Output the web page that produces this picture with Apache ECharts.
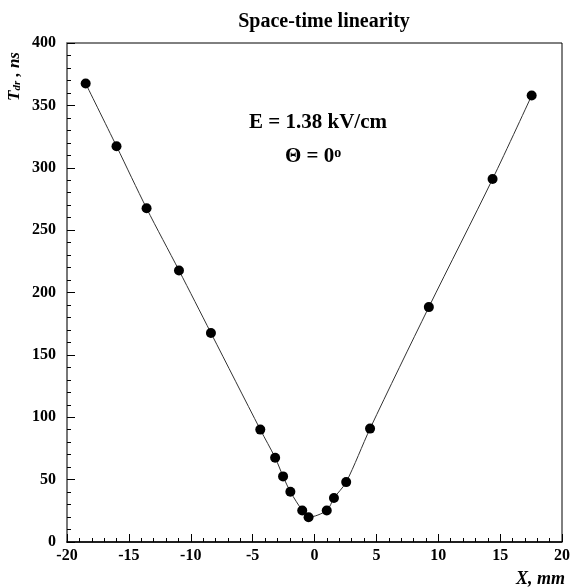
<!DOCTYPE html>
<html>
<head>
<meta charset="utf-8">
<script src="https://cdn.jsdelivr.net/npm/echarts@6/dist/echarts.min.js"></script>
<style>
html,body{margin:0;padding:0;background:#fff;}
#c{width:573px;height:588px;}
</style>
</head>
<body>
<div id="c"></div>
<script>
var xValues = [-18.49, -16.0, -13.57, -10.95, -8.37, -4.38, -3.18, -2.54, -1.95, -0.99, -0.48, 0.99, 1.57, 2.56, 4.49, 9.24, 14.39, 17.55];
var tValues = [367.5, 317.3, 267.5, 217.7, 167.6, 90.1, 67.6, 52.6, 40.3, 25.3, 19.9, 25.3, 35.2, 48.0, 90.9, 188.3, 291.0, 357.9];
var titleText = 'Space-time linearity';
var annotation1 = 'E = 1.38 kV/cm';
var xName = 'X, mm';

var FONT = '"Liberation Serif", "Times New Roman", serif';
var data = xValues.map(function (x, i) { return [x, tValues[i]]; });

var chart = echarts.init(document.getElementById('c'));
chart.setOption({
  animation: false,
  backgroundColor: '#fff',
  title: {
    text: titleText,
    left: 319, top: 7, textAlign: 'center',
    textStyle: { fontFamily: FONT, fontWeight: 'bold', fontSize: 20, color: '#000' }
  },
  grid: { left: 67, right: 6, top: 43, bottom: 46, show: true, borderColor: '#000', borderWidth: 1, backgroundColor: 'transparent' },
  xAxis: {
    type: 'value', min: -20, max: 20, interval: 5,
    axisLine: { onZero: false, lineStyle: { color: '#000', width: 1.5 } },
    axisTick: { inside: true, length: 8, lineStyle: { color: '#000' } },
    minorTick: { show: true, splitNumber: 5, length: 4, lineStyle: { color: '#000' } },
    splitLine: { show: false },
    axisLabel: { margin: 6, fontFamily: FONT, fontWeight: 'bold', fontSize: 16, color: '#000' }
  },
  yAxis: {
    type: 'value', min: 0, max: 400, interval: 50,
    axisLine: { onZero: false, lineStyle: { color: '#777', width: 2 } },
    axisTick: { inside: true, length: 8, lineStyle: { color: '#000' } },
    minorTick: { show: true, splitNumber: 5, length: 4, lineStyle: { color: '#000' } },
    splitLine: { show: false },
    axisLabel: { margin: 11, fontFamily: FONT, fontWeight: 'bold', fontSize: 16, color: '#000' }
  },
  graphic: [
    {
      type: 'text', z: 100, x: 318, y: 112,
      style: { text: annotation1, fill: '#000', font: 'bold 21px ' + FONT, align: 'center' }
    },
    {
      type: 'text', z: 100, x: 285, y: 146,
      style: {
        text: '{m|\u0398 = 0}{s|o}',
        rich: {
          m: { font: 'bold 21px ' + FONT, fill: '#000', verticalAlign: 'bottom' },
          s: { font: 'bold 14px ' + FONT, fill: '#000', verticalAlign: 'top', padding: [0, 0, 4, 0] }
        }
      }
    },
    {
      type: 'text', z: 100, x: 6, y: 101, rotation: Math.PI / 2,
      style: {
        text: '{t|T}{d|dr}{t| , ns}',
        rich: {
          t: { font: 'italic bold 17px ' + FONT, fill: '#000', verticalAlign: 'top' },
          d: { font: 'italic bold 11px ' + FONT, fill: '#000', verticalAlign: 'bottom', padding: [6, 0, 0, 0] }
        }
      }
    },
    {
      type: 'text', z: 100, right: 8, top: 570,
      style: { text: xName, fill: '#000', font: 'italic bold 18px ' + FONT }
    }
  ],
  series: [{
    type: 'line',
    data: data,
    smooth: 0.3,
    symbol: 'circle',
    symbolSize: 10,
    itemStyle: { color: '#000' },
    lineStyle: { color: '#333', width: 1 }
  }]
});
</script>
</body>
</html>
